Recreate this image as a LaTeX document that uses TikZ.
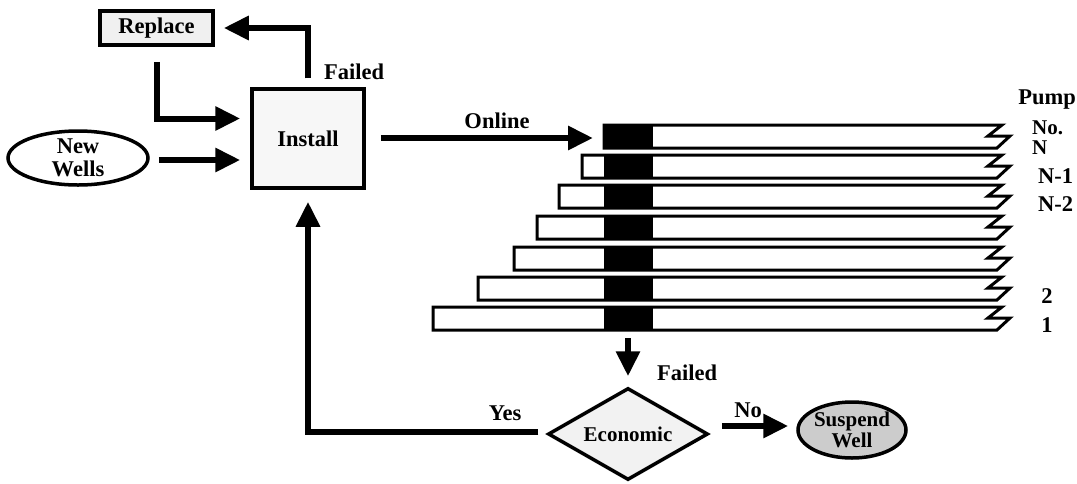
\documentclass[tikz,border=0pt]{standalone}
\usepackage{fontspec}
\setmainfont{Liberation Serif}
\usetikzlibrary{arrows.meta,shapes.geometric,calc}
\begin{document}
\begin{tikzpicture}[x=1pt,y=-1pt,
  every node/.style={font=\fontsize{22.5}{23}\selectfont\bfseries},
  lbl/.style={inner sep=0pt},
  boxnode/.style={draw,line width=3.5pt,fill=gray!12,inner sep=0pt},
  arr/.style={line width=6pt,-{Triangle[length=25pt,width=23pt]}},
  barout/.style={draw,line width=3pt,fill=white},
  blk/.style={fill=black}]
\useasboundingbox (0,0) rectangle (1077,483);

% nodes
\node[boxnode,minimum width=113pt,minimum height=34pt] (Replace) at (156.5,28) {Replace};
\node[boxnode,fill=gray!6,minimum width=112pt,minimum height=99pt] (Install) at (308,138.5) {Install};
\node[draw,ellipse,line width=3.5pt,fill=white,minimum width=140pt,minimum height=54pt,inner sep=0pt,align=center] (NewWells) at (78,158) {New\\Wells};
\node[draw,diamond,line width=3.5pt,fill=gray!10,aspect=1.74,minimum width=160pt,minimum height=92pt,inner sep=0pt,font=\fontsize{21}{23}\selectfont\bfseries] (Economic) at (628,434) {Economic};
\node[draw,ellipse,line width=3.5pt,fill=gray!40,minimum width=108pt,minimum height=56pt,inner sep=0pt,align=center,font=\fontsize{21}{21}\selectfont\bfseries] (Suspend) at (852,430) {Suspend\\Well};

% bars
\foreach \t/\L in {125/604,155/582,185/559,216/537,247/514,277/478,307/433}{
  \path[barout] (\L,\t) -- (1002,\t) -- (988,\t+11) -- (1010,\t+11) -- (997,\t+23) -- (\L,\t+23) -- cycle;
  \fill[blk] (604,\t) rectangle (653,\t+23);
}
\coordinate (barN) at (604,138);
\coordinate (barOne) at (628,330);

% labels
\node[lbl] (failA) at (354,72) {Failed};
\node[lbl] (online) at (497,121) {Online};
\node[lbl] (yes) at (505,413) {Yes};
\node[lbl] (failB) at (687,373) {Failed};
\node[lbl] (no) at (748,410) {No};
\node[lbl] (pump) at (1047,100) {Pump};
\node[lbl,anchor=west,font=\fontsize{21}{21}\selectfont\bfseries] (pno) at (1032,128) {No.};
\node[lbl,anchor=west,font=\fontsize{21}{21}\selectfont\bfseries] (pN) at (1032,148) {N};
\node[lbl,anchor=west] (pN1) at (1038,176) {N-1};
\node[lbl,anchor=west] (pN2) at (1038,204) {N-2};
\node[lbl] (p2) at (1047,296) {2};
\node[lbl] (p1) at (1047,325) {1};

% connectors
\draw[arr,shorten <=9pt,shorten >=9pt] (Install.north) |- (Replace.east);
\draw[arr,shorten <=15pt,shorten >=10pt] (Replace.south) |- ([yshift=20pt]Install.west);
\draw[arr,shorten >=10pt] ([xshift=9pt]NewWells.east |- 0,160) -- (Install.west |- 0,160);
\draw[arr,shorten <=15pt,shorten >=11pt] (Install.east |- barN) -- (barN);
\draw[arr,shorten <=8pt,shorten >=10pt] (barOne) -- (Economic.north);
\draw[arr,shorten <=8pt,shorten >=12pt] (Economic.west |- 0,432) -| (Install.south);
\draw[arr,shorten <=12pt,shorten >=8pt] (Economic.east |- 0,426) -- (Suspend.west |- 0,426);
\end{tikzpicture}
\end{document}
